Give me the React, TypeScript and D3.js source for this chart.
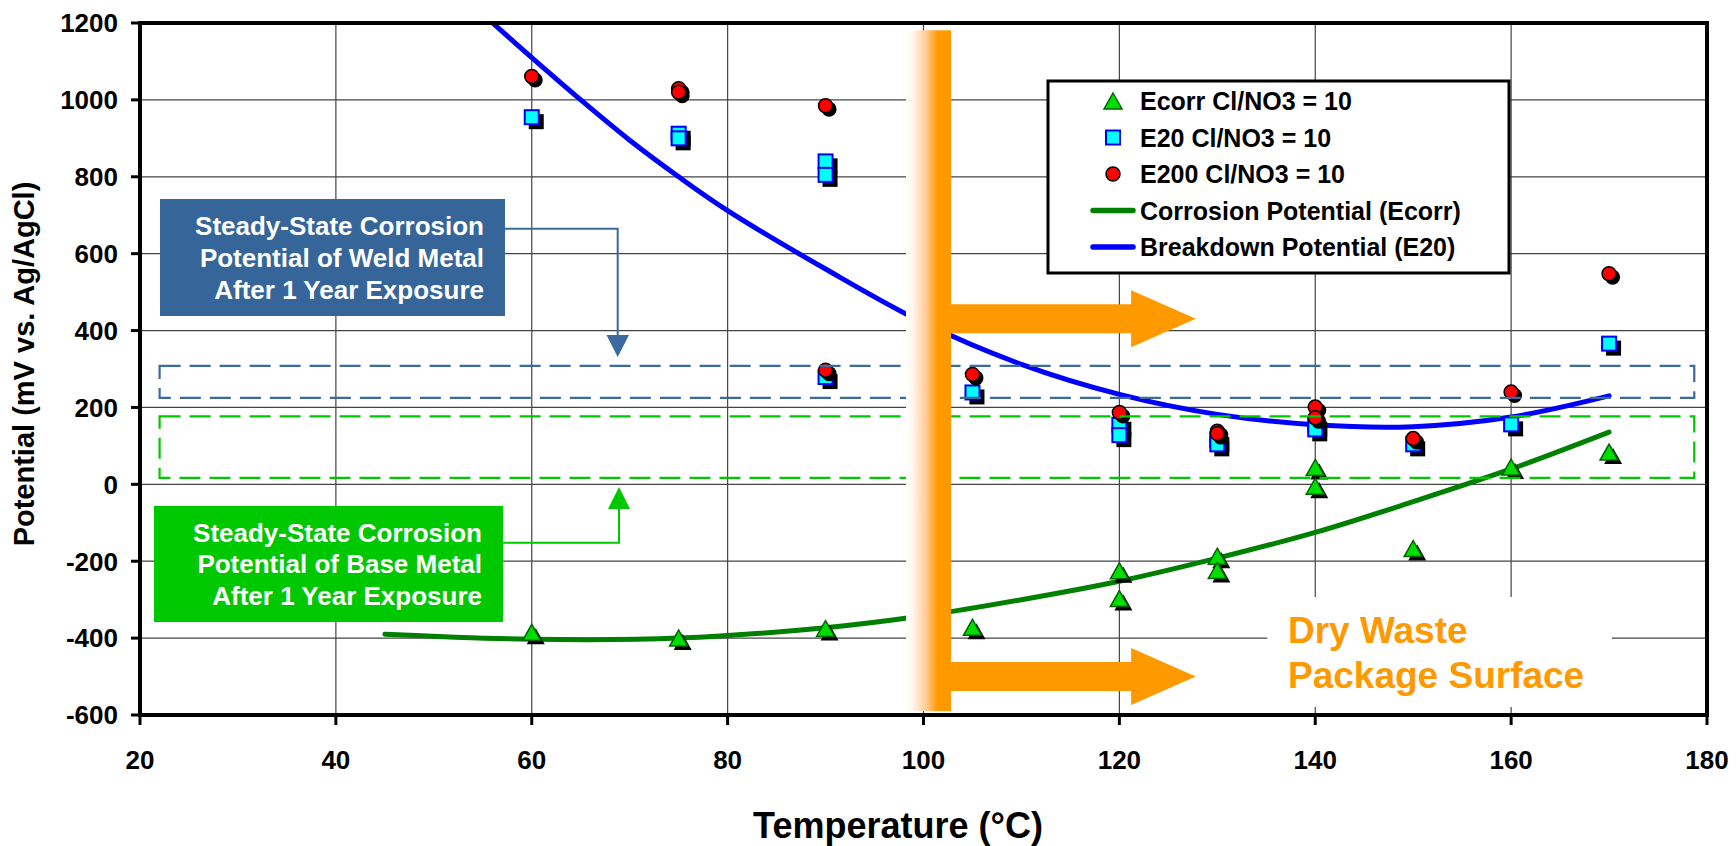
import React from 'react';
import * as d3 from 'd3';

// chart size
const W = 1736;
const H = 846;
const plotLeft = 140;
const plotRight = 1707;
const plotTop = 23;
const plotBottom = 715;

const xTicks = [20, 40, 60, 80, 100, 120, 140, 160, 180];
const yTicks = [-600, -400, -200, 0, 200, 400, 600, 800, 1000, 1200];

// measured points: [temperature, potential]
const ecorrPoints: [number, number][] = [
  [60, -385], [75, -400], [90, -375], [105, -372],
  [120, -225], [120, -297], [130, -187], [130, -224],
  [140, 44], [140, -5], [150, -167], [160, 45], [170, 84],
];
const e20Points: [number, number][] = [
  [60, 955], [75, 912], [75, 900], [90, 840], [90, 805], [90, 279],
  [105, 239], [120, 155], [120, 128], [130, 115], [130, 104],
  [140, 155], [140, 143], [150, 104], [160, 156], [170, 366],
];
const e200Points: [number, number][] = [
  [60, 1061], [75, 1029], [75, 1020], [90, 985], [90, 297],
  [105, 286], [120, 187], [130, 138], [130, 132],
  [140, 201], [140, 173], [150, 119], [160, 240], [170, 548],
];

// fitted curves
const ecorrFit: [number, number][] = [
  [45, -390], [60, -403], [75, -400], [90, -373], [100, -342], [110, -300],
  [120, -252], [130, -192], [140, -125], [150, -45], [160, 40], [170, 136],
];
const e20Fit: [number, number][] = [
  [56, 1200], [60, 1110], [65, 1000], [70, 895], [75, 800], [80, 712],
  [90, 560], [100, 420], [110, 312], [120, 234], [130, 182], [140, 155],
  [150, 150], [160, 175], [170, 230],
];

// steady-state ranges (mV)
const weldRange = [225, 308];
const baseRange = [17, 177];
const rangeX = [22, 178.7];

const legendLabels = [
  'Ecorr Cl/NO3 = 10',
  'E20 Cl/NO3 = 10',
  'E200 Cl/NO3 = 10',
  'Corrosion Potential (Ecorr)',
  'Breakdown Potential (E20)',
];

const weldLines = ['Steady-State Corrosion', 'Potential of Weld Metal', 'After 1 Year Exposure'];
const baseLines = ['Steady-State Corrosion', 'Potential of Base Metal', 'After 1 Year Exposure'];
const dryLines = ['Dry Waste', 'Package Surface'];

const FONT = '"Liberation Sans", Arial, sans-serif';
const ORANGE = '#FF9900';
const GREEN = '#00C800';
const STEEL = '#3A6A9E';

const x = d3.scaleLinear().domain([20, 180]).range([plotLeft, plotRight]);
const y = d3.scaleLinear().domain([-600, 1200]).range([plotBottom, plotTop]);

const triPath = 'M0,-8L9,8L-9,8Z';

function Triangle({ cx, cy, shadow }: { cx: number; cy: number; shadow?: boolean }) {
  return (
    <g>
      {shadow && <path d={triPath} transform={`translate(${cx + 4},${cy + 4})`} fill="#000" />}
      <path d={triPath} transform={`translate(${cx},${cy})`} fill="#00DD00" stroke="#006400" strokeWidth={1.5} />
    </g>
  );
}
function Square({ cx, cy, shadow }: { cx: number; cy: number; shadow?: boolean }) {
  return (
    <g>
      {shadow && <rect x={cx - 7 + 4} y={cy - 7 + 4} width={15} height={15} fill="#000" />}
      <rect x={cx - 7} y={cy - 7} width={14} height={14} fill="#00FFFF" stroke="#0000FF" strokeWidth={2} />
    </g>
  );
}
function Circle({ cx, cy, shadow }: { cx: number; cy: number; shadow?: boolean }) {
  return (
    <g>
      {shadow && <circle cx={cx + 3.5} cy={cy + 3.5} r={7.5} fill="#000" />}
      <circle cx={cx} cy={cy} r={7} fill="#FF0000" stroke="#000" strokeWidth={1.5} />
    </g>
  );
}

function Arrow({ yVal }: { yVal: number }) {
  // big orange arrow pointing right from the band
  const x0 = x(102.8);
  const x1 = x(121.2);
  const x2 = x(127.8);
  const cy = y(yVal);
  const d = `M${x0},${cy - 14.5}L${x1},${cy - 14.5}L${x1},${cy - 28.5}L${x2},${cy}L${x1},${cy + 28.5}L${x1},${cy + 14.5}L${x0},${cy + 14.5}Z`;
  return <path d={d} fill={ORANGE} />;
}

export default function App() {
  const line = d3.line<[number, number]>().x(d => x(d[0])).y(d => y(d[1])).curve(d3.curveCatmullRom);

  return (
    <svg width={W} height={H} style={{ position: 'absolute', left: 0, top: 0, background: '#fff' }} fontFamily={FONT}>
      <defs>
        <clipPath id="plotClip">
          <rect x={plotLeft} y={plotTop} width={plotRight - plotLeft} height={plotBottom - plotTop} />
        </clipPath>
        <linearGradient id="bandGrad" x1="0" x2="1" y1="0" y2="0">
          <stop offset="0" stopColor="#FFFFFF" />
          <stop offset="0.15" stopColor="#FFF6EE" />
          <stop offset="0.45" stopColor="#FFCB94" />
          <stop offset="0.7" stopColor={ORANGE} />
          <stop offset="1" stopColor={ORANGE} />
        </linearGradient>
      </defs>

      {/* grid */}
      <g stroke="#444" strokeWidth={1.2}>
        {yTicks.map(t => (
          <line key={'gy' + t} x1={plotLeft} x2={plotRight} y1={y(t)} y2={y(t)} />
        ))}
        {xTicks.map(t => (
          <line key={'gx' + t} x1={x(t)} x2={x(t)} y1={plotTop} y2={plotBottom} />
        ))}
      </g>

      {/* white box behind the dry waste text */}
      <rect x={x(135.1)} y={597} width={x(170.3) - x(135.1)} height={110} fill="#fff" />

      {/* fitted curves */}
      <g clipPath="url(#plotClip)" fill="none" strokeLinecap="round">
        <path d={line(ecorrFit) || ''} stroke="#008000" strokeWidth={5} />
        <path d={line(e20Fit) || ''} stroke="#0000FF" strokeWidth={5} />
      </g>

      {/* data points */}
      {ecorrPoints.map((d, i) => <Triangle key={'t' + i} cx={x(d[0])} cy={y(d[1])} shadow />)}
      {e20Points.map((d, i) => <Square key={'s' + i} cx={x(d[0])} cy={y(d[1])} shadow />)}
      {e200Points.map((d, i) => <Circle key={'c' + i} cx={x(d[0])} cy={y(d[1])} shadow />)}

      {/* steady-state ranges */}
      <rect x={x(rangeX[0])} y={y(weldRange[1])} width={x(rangeX[1]) - x(rangeX[0])} height={y(weldRange[0]) - y(weldRange[1])}
        fill="none" stroke={STEEL} strokeWidth={2.2} strokeDasharray="21,9" />
      <rect x={x(rangeX[0])} y={y(baseRange[1])} width={x(rangeX[1]) - x(rangeX[0])} height={y(baseRange[0]) - y(baseRange[1])}
        fill="none" stroke={GREEN} strokeWidth={2.2} strokeDasharray="21,9" />

      {/* orange band at 100 C */}
      <rect x={x(98.21)} y={y(1181)} width={x(102.81) - x(98.21)} height={y(-590) - y(1181)} fill="url(#bandGrad)" />
      <Arrow yVal={431} />
      <Arrow yVal={-500} />

      {/* dry waste label */}
      <g fill={ORANGE} fontSize={37} fontWeight="bold">
        {dryLines.map((s, i) => (
          <text key={s} x={1288} y={643 + i * 45}>{s}</text>
        ))}
      </g>

      {/* weld metal callout */}
      <path d="M505,228.7H617.7V336" fill="none" stroke={STEEL} strokeWidth={2} />
      <path d="M606.5,335L629,335L617.7,357Z" fill={STEEL} />
      <rect x={160} y={199} width={345} height={117} fill="#366599" />
      <g fill="#fff" fontSize={26} fontWeight="bold" textAnchor="end">
        {weldLines.map((s, i) => (
          <text key={s} x={484} y={235 + i * 32}>{s}</text>
        ))}
      </g>

      {/* base metal callout */}
      <path d="M503,542.7H619V508" fill="none" stroke={GREEN} strokeWidth={2} />
      <path d="M608,509L630,509L619,487Z" fill={GREEN} />
      <rect x={154} y={506} width={349} height={116} fill={GREEN} />
      <g fill="#fff" fontSize={26} fontWeight="bold" textAnchor="end">
        {baseLines.map((s, i) => (
          <text key={s + i} x={482} y={541.5 + i * 31.7}>{s}</text>
        ))}
      </g>

      {/* legend */}
      <rect x={1048} y={81} width={461} height={192} fill="#fff" stroke="#000" strokeWidth={3} />
      {legendLabels.map((s, i) => {
        const ly = 101 + i * 36.5;
        return (
          <g key={s}>
            {i === 0 && <Triangle cx={1113} cy={ly} />}
            {i === 1 && <Square cx={1113} cy={ly} />}
            {i === 2 && <Circle cx={1113} cy={ly} />}
            {i === 3 && <line x1={1093} x2={1133} y1={ly} y2={ly} stroke="#008000" strokeWidth={5.5} strokeLinecap="round" />}
            {i === 4 && <line x1={1093} x2={1133} y1={ly} y2={ly} stroke="#0000FF" strokeWidth={5.5} strokeLinecap="round" />}
            <text x={1140} y={ly} dy="0.36em" fontSize={25} fontWeight="bold" fill="#000">{s}</text>
          </g>
        );
      })}

      {/* frame and axes */}
      <rect x={plotLeft} y={plotTop} width={plotRight - plotLeft} height={plotBottom - plotTop} fill="none" stroke="#000" strokeWidth={4} />
      <g stroke="#000" strokeWidth={3}>
        {yTicks.map(t => (
          <line key={'ty' + t} x1={plotLeft - 9} x2={plotLeft} y1={y(t)} y2={y(t)} />
        ))}
        {xTicks.map(t => (
          <line key={'tx' + t} x1={x(t)} x2={x(t)} y1={plotBottom} y2={plotBottom + 10} />
        ))}
      </g>
      <g fontSize={26} fontWeight="bold" fill="#000">
        {yTicks.map(t => (
          <text key={'ly' + t} x={118} y={y(t)} dy="0.36em" textAnchor="end">{t}</text>
        ))}
        {xTicks.map(t => (
          <text key={'lx' + t} x={x(t)} y={769} textAnchor="middle">{t}</text>
        ))}
      </g>
      <text x={898} y={838} textAnchor="middle" fontSize={36} fontWeight="bold">Temperature (°C)</text>
      <text transform="translate(33.5,364) rotate(-90)" textAnchor="middle" fontSize={29} fontWeight="bold">
        Potential (mV vs. Ag/AgCl)
      </text>
    </svg>
  );
}
